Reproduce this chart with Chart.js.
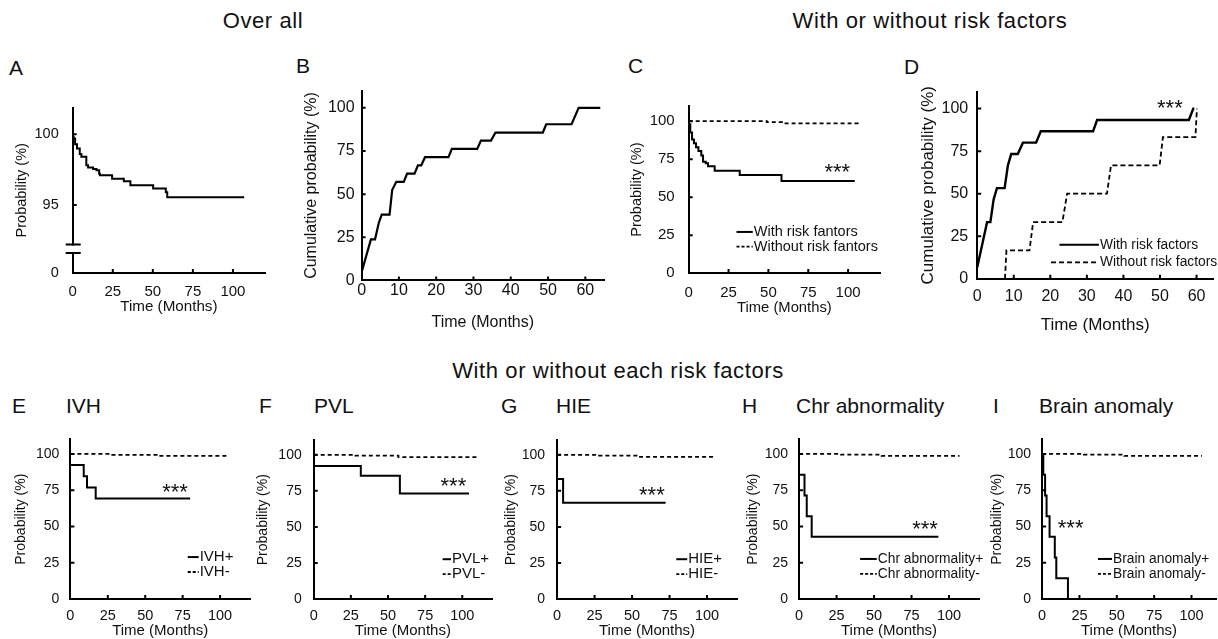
<!DOCTYPE html>
<html lang="en">
<head>
  <meta charset="UTF-8">
  <title>Event-free probability panels</title>
  <script src="https://cdn.jsdelivr.net/npm/chart.js"></script>
  <style>
    body {
      margin: 0;
      width: 1218px;
      height: 639px;
      position: relative;
      overflow: hidden;
      background: #fff;
      color: #111;
      font-family: Arial, 'Liberation Sans', sans-serif;
    }
    .head {
      position: absolute;
      font-size: 22px;
      line-height: 22px;
      letter-spacing: 0.6px;
      white-space: nowrap;
      transform: translateX(-50%);
    }
    .tag {
      position: absolute;
      font-size: 21px;
      line-height: 21px;
      white-space: nowrap;
    }
    canvas { position: absolute; }
  </style>
</head>
<body>

  <div class="head" style="left:263px; top:10px;">Over all</div>
  <div class="head" style="left:930px; top:10px;">With or without risk factors</div>
  <div class="head" style="left:618px; top:360px;">With or without each risk factors</div>

  <div class="tag" style="left:9px; top:57px;">A</div>
  <div class="tag" style="left:296px; top:55px;">B</div>
  <div class="tag" style="left:628px; top:55px;">C</div>
  <div class="tag" style="left:904px; top:56px;">D</div>
  <div class="tag" style="left:12px; top:395px;">E</div>
  <div class="tag" style="left:66px; top:395px;">IVH</div>
  <div class="tag" style="left:259px; top:395px;">F</div>
  <div class="tag" style="left:314px; top:395px;">PVL</div>
  <div class="tag" style="left:501px; top:395px;">G</div>
  <div class="tag" style="left:556px; top:395px;">HIE</div>
  <div class="tag" style="left:742px; top:395px;">H</div>
  <div class="tag" style="left:796px; top:395px;">Chr abnormality</div>
  <div class="tag" style="left:993px; top:395px;">I</div>
  <div class="tag" style="left:1039px; top:395px;">Brain anomaly</div>

  <script>
    // ---- tick labels ----
    const monthTicks = [0, 25, 50, 75, 100];
    const monthTicksShort = [0, 10, 20, 30, 40, 50, 60];
    const pctTicks = [0, 25, 50, 75, 100];
    const overallPctTicks = [0, 95, 100];   // axis is broken between 0 and 95

    // ---- A: overall event-free probability ----
    const overallTimes = [0, 0.6, 1.5, 2.7, 4.4, 5.4, 8.5, 9.6, 12.7, 14.8, 16.5, 17, 24.6, 31.9, 36, 50.2, 58.1, 59, 107];
    const overallProb  = [99.8, 99.7, 99.3, 99.0, 98.6, 98.4, 97.8, 97.65, 97.55, 97.45, 97.2, 97.1, 96.85, 96.67, 96.4, 96.17, 95.9, 95.55, 95.55];

    // ---- B: cumulative probability, all events ----
    const cumAllTimes = [0, 2.5, 3.6, 4.6, 5.4, 7.5, 8.2, 9.3, 11.3, 12.2, 14.2, 15.1, 16, 17, 23.3, 24.2, 31, 32, 34.7, 35.9, 48.6, 49.5, 56.3, 58.2, 64];
    const cumAllProb  = [4.8, 23.8, 23.8, 33.3, 38.1, 38.1, 52.4, 57.1, 57.1, 61.9, 61.9, 66.7, 66.7, 71.4, 71.4, 76.2, 76.2, 81, 81, 85.7, 85.7, 90.5, 90.5, 100, 100];

    // ---- C: with / without risk factors ----
    const withRiskTimes = [0, 0.2, 1, 2.1, 3.3, 4.6, 6.1, 7.9, 9, 10.7, 12.1, 16.3, 32, 58.2, 104.2];
    const withRiskProb  = [100, 98, 92.5, 88, 85.5, 82.8, 80.4, 77.4, 73.3, 72.3, 70.3, 67.3, 64.6, 60.6, 60.6];
    const noRiskTimes = [0, 49, 60, 107];
    const noRiskProb  = [100, 99.4, 98.6, 98.6];

    // ---- D: cumulative probability with / without risk factors ----
    const cumWithTimes = [0, 2.7, 3.6, 4.5, 5.4, 7.5, 8.4, 9.3, 11.1, 12.5, 16.1, 17.4, 31.7, 32.8, 57.9, 59.1, 59.4];
    const cumWithProb  = [6.7, 33.3, 33.3, 46.7, 53.3, 53.3, 66.7, 73.3, 73.3, 80, 80, 86.7, 86.7, 93.3, 93.3, 100, 100];
    const cumWithoutTimes = [7.6, 8.0, 14.3, 15.3, 23.3, 24.6, 35.5, 36.6, 49.9, 50.8, 59.7, 60.1];
    const cumWithoutProb  = [0, 16.7, 16.7, 33.3, 33.3, 50, 50, 66.7, 66.7, 83.3, 83.3, 100];

    // ---- E-I: each risk factor (+ / -) ----
    const ivhPosTimes = [0, 8.9, 11.1, 16.9, 80];
    const ivhPosProb  = [92.3, 84.6, 76.9, 69.2, 69.2];
    const ivhNegTimes = [0, 28, 59, 106];
    const ivhNegProb  = [100, 99.4, 98.6, 98.6];

    const pvlPosTimes = [0, 31.7, 58, 104.5];
    const pvlPosProb  = [92.3, 85.4, 73.2, 73.2];
    const pvlNegTimes = [0, 28, 57, 111];
    const pvlNegProb  = [100, 99.4, 98.4, 98.4];

    const hiePosTimes = [0, 4, 72.4];
    const hiePosProb  = [83.3, 66.7, 66.7];
    const hieNegTimes = [0, 28, 54.5, 106];
    const hieNegProb  = [100, 99.5, 98.6, 98.6];

    const chrPosTimes = [0, 3.6, 5.1, 8.4, 92.9];
    const chrPosProb  = [85.7, 71.4, 57.1, 42.9, 42.9];
    const chrNegTimes = [0, 28, 55, 107];
    const chrNegProb  = [100, 99.5, 98.6, 98.6];

    const brainPosTimes = [0, 0.8, 2, 3, 5, 8.5, 9.5, 17.3];
    const brainPosProb  = [100, 85.7, 71.4, 57.1, 42.9, 28.6, 14.3, 0];
    const brainNegTimes = [0, 28, 55, 107];
    const brainNegProb  = [100, 99.5, 98.6, 98.6];

    Chart.defaults.font.family = "Arial, 'Liberation Sans', sans-serif";
    Chart.defaults.color = '#111';

    const pts = (t, p) => t.map((v, i) => ({ x: v, y: p[i] }));
    const solid = (t, p, stepped, w) => ({ data: pts(t, p), borderColor: '#000', borderWidth: w || 2, stepped: stepped, pointRadius: 0, fill: false });
    const dashed = (t, p, stepped, dash) => ({ data: pts(t, p), borderColor: '#000', borderWidth: 1.8, borderDash: dash || [4, 3], stepped: stepped, pointRadius: 0, fill: false });

    // inward tick marks, axis break, stars and hand-placed legends
    const decor = {
      id: 'decor',
      afterDraw(chart, args, o) {
        const { ctx, chartArea: a } = chart;
        const xs = chart.scales.x, ys = chart.scales.y;
        ctx.save();
        ctx.strokeStyle = '#000';
        ctx.lineWidth = 2;
        ctx.beginPath();
        xs.ticks.forEach(t => {
          const px = xs.getPixelForValue(t.value);
          if (px - a.left < 2) return;
          ctx.moveTo(px, a.bottom);
          ctx.lineTo(px, a.bottom - 4);
        });
        ys.ticks.forEach(t => {
          const py = ys.getPixelForValue(t.value);
          if (a.bottom - py < 2) return;
          ctx.moveTo(a.left, py);
          ctx.lineTo(a.left + 4, py);
        });
        ctx.stroke();

        if (o.brk) {
          const p1 = ys.getPixelForValue(o.brk[0]);
          const p2 = ys.getPixelForValue(o.brk[1]);
          ctx.fillStyle = '#fff';
          ctx.fillRect(a.left - 3, p1 + 1, 6, p2 - p1 - 2);
          ctx.beginPath();
          ctx.moveTo(a.left - 7, p1); ctx.lineTo(a.left + 8, p1);
          ctx.moveTo(a.left - 7, p2); ctx.lineTo(a.left + 8, p2);
          ctx.stroke();
        }

        ctx.fillStyle = '#111';
        if (o.stars) {
          ctx.font = '22px Arial, "Liberation Sans", sans-serif';
          ctx.textAlign = 'center';
          ctx.textBaseline = 'alphabetic';
          ctx.fillText('***', xs.getPixelForValue(o.stars[0]), ys.getPixelForValue(o.stars[1]) + 12);
        }

        if (o.legend) {
          ctx.font = (o.legendSize || 14) + 'px Arial, "Liberation Sans", sans-serif';
          ctx.textAlign = 'left';
          ctx.textBaseline = 'middle';
          o.legend.forEach(it => {
            const py = ys.getPixelForValue(it.y);
            const x1 = xs.getPixelForValue(it.x1), x2 = xs.getPixelForValue(it.x2);
            ctx.lineWidth = it.dash ? 1.8 : 2;
            ctx.setLineDash(it.dash ? it.dash : []);
            ctx.beginPath();
            ctx.moveTo(x1, py); ctx.lineTo(x2, py);
            ctx.stroke();
            ctx.setLineDash([]);
            ctx.fillText(it.label, x2 + 1, py);
          });
        }
        ctx.restore();
      }
    };

    function makePanel(p, datasets, decorOpts) {
      const lh = p.titleSize * 1.2;
      const xlh = (p.xTitleSize || p.titleSize) * 1.2;
      const left = p.ytx - lh / 2;
      const yw = p.L - left;
      const xh = p.xty + xlh / 2 - p.B;
      const padTop = 8, padR = p.padR || 8;
      const top = p.T - padTop;
      const canvas = document.createElement('canvas');
      canvas.width = Math.round(p.R - left + padR);
      canvas.height = Math.round(p.B - top + xh);
      canvas.style.left = left + 'px';
      canvas.style.top = top + 'px';
      document.body.appendChild(canvas);

      new Chart(canvas, {
        type: 'line',
        data: { datasets },
        plugins: [decor],
        options: {
          responsive: false,
          animation: false,
          layout: { padding: { top: padTop, right: padR, left: 0, bottom: 0 } },
          plugins: { legend: { display: false }, tooltip: { enabled: false }, decor: decorOpts },
          scales: {
            x: {
              type: 'linear',
              min: 0,
              max: p.xMax,
              afterBuildTicks: s => { s.ticks = p.xTicks.map(v => ({ value: v })); },
              afterFit: s => { s.height = xh; },
              grid: { display: false, drawTicks: false },
              border: { color: '#000', width: 2 },
              ticks: { autoSkip: false, maxRotation: 0, padding: p.xPad, color: '#111', font: { size: p.xTickSize || p.tickSize } },
              title: { display: true, text: 'Time (Months)', padding: 0, color: '#111', font: { size: p.xTitleSize || p.titleSize } }
            },
            y: {
              min: p.yMin,
              max: p.yMax,
              afterBuildTicks: s => { s.ticks = p.yTicks.map(v => ({ value: v })); },
              afterFit: s => { s.width = yw; },
              grid: { display: false, drawTicks: false },
              border: { color: '#000', width: 2 },
              ticks: { padding: p.yPad, color: '#111', font: { size: p.tickSize }, callback: p.yLabel || (v => v) },
              title: { display: true, text: p.yTitle, padding: 0, color: '#111', font: { size: p.titleSize } }
            }
          }
        }
      });
    }

    const A_MIN = 90.19;
    const bottomRow = { T: 428, B: 599, yMin: 0, yMax: 110, yTicks: pctTicks, xTicks: monthTicks, xty: 631,
      tickSize: 14, xTickSize: 14.5, titleSize: 14, xTitleSize: 15, xPad: 8.5, yTitle: 'Probability (%)' };

    // A
    makePanel({ L: 73, T: 93, R: 265, B: 273, xMax: 120, yMin: A_MIN, yMax: 101.88,
      yTicks: overallPctTicks.map(v => (v === 0 ? A_MIN : v)), yLabel: v => (v < 95 ? '0' : v),
      xTicks: monthTicks, ytx: 22, xty: 307, tickSize: 14.5, xTickSize: 15, titleSize: 14.5, xTitleSize: 15.2,
      xPad: 10, yPad: 14, yTitle: 'Probability (%)' },
      [solid(overallTimes, overallProb, true)],
      { brk: [92.2, 91.6] });

    // B
    makePanel({ L: 362, T: 82, R: 604, B: 280, xMax: 65, yMin: 0, yMax: 110, yTicks: pctTicks, xTicks: monthTicksShort,
      ytx: 312, xty: 322, tickSize: 16, titleSize: 16, xPad: 1, yPad: 7, yTitle: 'Cumulative probability (%)' },
      [solid(cumAllTimes, cumAllProb, false, 2.2)],
      {});

    // C
    makePanel({ L: 689, T: 91, R: 880, B: 273, xMax: 120, yMin: 0, yMax: 110, yTicks: pctTicks, xTicks: monthTicks,
      ytx: 637, xty: 308, tickSize: 15, titleSize: 14.5, xTitleSize: 14.8, xPad: 11, yPad: 14, yTitle: 'Probability (%)' },
      [solid(withRiskTimes, withRiskProb, true), dashed(noRiskTimes, noRiskProb, true)],
      { stars: [93.2, 70.1], legendSize: 14.5, legend: [
        { label: 'With risk fantors', x1: 30, x2: 40.2, y: 27.1 },
        { label: 'Without risk fantors', x1: 30, x2: 40.2, y: 17.4, dash: [3, 2] }
      ] });

    // D
    makePanel({ L: 977, T: 81, R: 1213, B: 279, xMax: 64.5, yMin: 0, yMax: 110, yTicks: pctTicks, xTicks: monthTicksShort,
      ytx: 928, xty: 326, tickSize: 16, titleSize: 17, xPad: 8, yPad: 9, yTitle: 'Cumulative probability (%)', padR: 8 },
      [solid(cumWithTimes, cumWithProb, false, 2.4), dashed(cumWithoutTimes, cumWithoutProb, false, [5, 3])],
      { stars: [52.7, 103.5], legendSize: 13.8, legend: [
        { label: 'With risk factors', x1: 22.5, x2: 33.3, y: 20 },
        { label: 'Without risk factors', x1: 20.2, x2: 33.3, y: 9.6, dash: [5, 3] }
      ] });

    // E
    makePanel({ ...bottomRow, L: 70.7, R: 250.7, xMax: 120, ytx: 21.7, yPad: 11 },
      [solid(ivhPosTimes, ivhPosProb, true), dashed(ivhNegTimes, ivhNegProb, true)],
      { stars: [69.9, 77.1], legendSize: 15, legend: [
        { label: 'IVH+', x1: 78.4, x2: 85.7, y: 28.9 },
        { label: 'IVH-', x1: 78.4, x2: 85.7, y: 18.6, dash: [3, 2] }
      ] });

    // F
    makePanel({ ...bottomRow, L: 314, R: 492, xMax: 120, ytx: 263.7, yPad: 12 },
      [solid(pvlPosTimes, pvlPosProb, true), dashed(pvlNegTimes, pvlNegProb, true)],
      { stars: [94, 82], legendSize: 15, legend: [
        { label: 'PVL+', x1: 86.8, x2: 92.4, y: 27.6 },
        { label: 'PVL-', x1: 86.8, x2: 92.4, y: 17.3, dash: [3, 2] }
      ] });

    // G
    makePanel({ ...bottomRow, L: 556.7, R: 736.7, xMax: 120, ytx: 511, yPad: 12 },
      [solid(hiePosTimes, hiePosProb, true), dashed(hieNegTimes, hieNegProb, true)],
      { stars: [63.2, 75.3], legendSize: 15, legend: [
        { label: 'HIE+', x1: 79.5, x2: 86.8, y: 27.6 },
        { label: 'HIE-', x1: 79.5, x2: 86.8, y: 17.3, dash: [3, 2] }
      ] });

    // H
    makePanel({ ...bottomRow, L: 799, R: 979, xMax: 120, ytx: 753.3, yPad: 11 },
      [solid(chrPosTimes, chrPosProb, true), dashed(chrNegTimes, chrNegProb, true)],
      { stars: [84, 51.8], legendSize: 13.8, legend: [
        { label: 'Chr abnormality+', x1: 40.7, x2: 51.8, y: 27.6 },
        { label: 'Chr abnormality-', x1: 40.7, x2: 51.8, y: 17.3, dash: [3, 2] }
      ] });

    // I
    makePanel({ ...bottomRow, L: 1041.7, R: 1216, xMax: 116.4, ytx: 997, yPad: 11, padR: 2 },
      [solid(brainPosTimes, brainPosProb, true), dashed(brainNegTimes, brainNegProb, true)],
      { stars: [19.1, 52.7], legendSize: 13.8, legend: [
        { label: 'Brain anomaly+', x1: 37.4, x2: 46.8, y: 27.6 },
        { label: 'Brain anomaly-', x1: 37.4, x2: 46.8, y: 17.3, dash: [3, 2] }
      ] });
  </script>

</body>
</html>
